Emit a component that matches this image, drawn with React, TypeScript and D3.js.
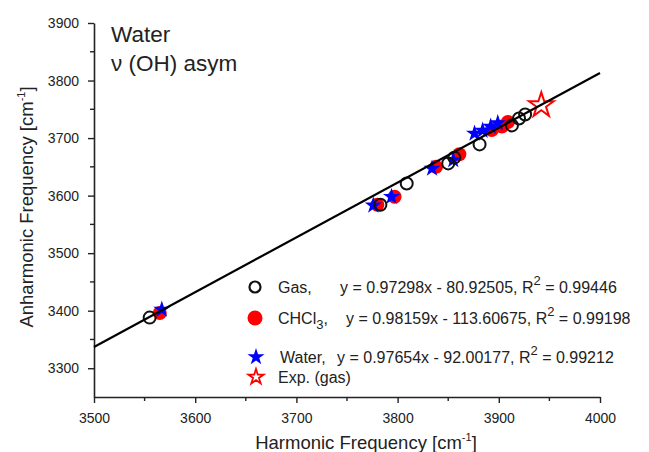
import React, { useEffect, useRef } from "react";
import * as d3 from "d3";

// harmonic vs anharmonic frequencies
const gasPoints = [
  [3555, 3388], [3783, 3584], [3809, 3621], [3850, 3656], [3856, 3666],
  [3881, 3689], [3913, 3722], [3920, 3734], [3926, 3741],
];
const chcl3Points = [
  [3565, 3396], [3780, 3584], [3797, 3598], [3838, 3650], [3861, 3672],
  [3893, 3714], [3903, 3720], [3909, 3728],
];
const waterPoints = [
  [3567, 3402], [3776, 3583], [3794, 3598], [3834, 3647], [3855, 3662],
  [3876, 3708], [3884, 3713], [3892, 3720], [3899, 3726],
];
const expPoints = [[3942, 3757]];
const fitLine = [[3500, 3337], [4000, 3813]];

const xTicks = [3500, 3600, 3700, 3800, 3900, 4000];
const yTicks = [3300, 3400, 3500, 3600, 3700, 3800, 3900];

const legendRows = [
  { key: "gas", name: "Gas,", eq: "y = 0.97298x - 80.92505, R", r2: " = 0.99446" },
  { key: "chcl3", name: "CHCl", eq: "y = 0.98159x - 113.60675, R", r2: " = 0.99198" },
  { key: "water", name: "Water,", eq: "y = 0.97654x - 92.00177, R", r2: " = 0.99212" },
  { key: "exp", name: "Exp. (gas)", eq: "", r2: "" },
];

const FONT = "Arial, 'Liberation Sans', sans-serif";

function App() {
  const ref = useRef<SVGSVGElement>(null);

  useEffect(() => {
    const svg = d3.select(ref.current);
    svg.selectAll("*").remove();

    const margin = { left: 94, right: 49, top: 23, bottom: 55 };
    const W = 649, H = 452;
    const x = d3.scaleLinear().domain([3500, 4000]).range([margin.left, W - margin.right]);
    const y = d3.scaleLinear().domain([3250, 3900]).range([H - margin.bottom, margin.top]);

    const g = svg.append("g");

    // axes
    const xAxis = d3.axisBottom(x).tickValues(xTicks).tickSize(6).tickSizeOuter(0).tickPadding(10)
      .tickFormat(d3.format("d"));
    const xg = g.append("g").attr("transform", `translate(0,${y(3250)})`).call(xAxis);
    const yAxis = d3.axisLeft(y).tickValues(yTicks).tickSize(6).tickSizeOuter(0).tickPadding(9)
      .tickFormat(d3.format("d"));
    const yg = g.append("g").attr("transform", `translate(${x(3500)},0)`).call(yAxis);
    [xg, yg].forEach((a) => {
      a.select(".domain").attr("stroke", "#222").attr("stroke-width", 1.6);
      a.selectAll(".tick line").attr("stroke", "#222").attr("stroke-width", 1.4);
      a.selectAll(".tick text").attr("font-family", FONT).attr("font-size", 14).attr("fill", "#222");
    });

    // minor ticks
    g.selectAll("line.xminor")
      .data(d3.range(3550, 4000, 100))
      .join("line")
      .attr("x1", (d) => x(d)).attr("x2", (d) => x(d))
      .attr("y1", y(3250)).attr("y2", y(3250) + 4)
      .attr("stroke", "#222").attr("stroke-width", 1.4);
    g.selectAll("line.yminor")
      .data(d3.range(3350, 3900, 100))
      .join("line")
      .attr("x1", x(3500) - 4).attr("x2", x(3500))
      .attr("y1", (d) => y(d)).attr("y2", (d) => y(d))
      .attr("stroke", "#222").attr("stroke-width", 1.4);

    const star = (R: number) => d3.symbol(d3.symbolStar, (R * R) / 0.8908130915)();

    // CHCl3 filled red circles
    g.selectAll("circle.chcl3")
      .data(chcl3Points)
      .join("circle")
      .attr("cx", (d) => x(d[0])).attr("cy", (d) => y(d[1]))
      .attr("r", 7).attr("fill", "#ff0000");

    // water blue stars
    g.selectAll("path.water")
      .data(waterPoints)
      .join("path")
      .attr("d", star(9))
      .attr("transform", (d) => `translate(${x(d[0])},${y(d[1])})`)
      .attr("fill", "#0000ff");

    // gas open circles
    g.selectAll("circle.gas")
      .data(gasPoints)
      .join("circle")
      .attr("cx", (d) => x(d[0])).attr("cy", (d) => y(d[1]))
      .attr("r", 6).attr("fill", "none").attr("stroke", "#111").attr("stroke-width", 2);

    // experimental open star
    g.selectAll("path.exp")
      .data(expPoints)
      .join("path")
      .attr("d", star(13))
      .attr("transform", (d) => `translate(${x(d[0])},${y(d[1])})`)
      .attr("fill", "none").attr("stroke", "#ff0000").attr("stroke-width", 2);

    // fit line
    g.append("path")
      .datum(fitLine)
      .attr("d", d3.line().x((d) => x(d[0])).y((d) => y(d[1])))
      .attr("stroke", "#000").attr("stroke-width", 2.2).attr("fill", "none");

    // title
    const title = g.append("text").attr("font-family", FONT).attr("fill", "#222").attr("font-size", 22.5);
    title.append("tspan").attr("x", 111).attr("y", 42).text("Water");
    title.append("tspan").attr("x", 111).attr("y", 71).text("ν (OH) asym");

    // legend
    const rowY = [287, 318, 357, 377];
    const lg = g.append("g").attr("font-family", FONT).attr("font-size", 16).attr("fill", "#222");
    legendRows.forEach((row, i) => {
      const cy = rowY[i];
      if (row.key === "gas") {
        lg.append("circle").attr("cx", 255).attr("cy", cy).attr("r", 5.5)
          .attr("fill", "none").attr("stroke", "#111").attr("stroke-width", 2.2);
      } else if (row.key === "chcl3") {
        lg.append("circle").attr("cx", 255).attr("cy", cy).attr("r", 7.5).attr("fill", "#ff0000");
      } else if (row.key === "water") {
        lg.append("path").attr("d", star(9)).attr("transform", `translate(256,${cy})`).attr("fill", "#0000ff");
      } else {
        lg.append("path").attr("d", star(8)).attr("transform", `translate(256,${cy})`)
          .attr("fill", "none").attr("stroke", "#ff0000").attr("stroke-width", 1.8);
      }
      const t = lg.append("text").attr("y", cy + 6);
      if (row.key === "chcl3") {
        t.append("tspan").attr("x", 278).text(row.name);
        t.append("tspan").attr("font-size", 13).attr("dy", 5).text("3");
        t.append("tspan").attr("dy", -5).text(",");
        t.append("tspan").attr("x", 346).text(row.eq);
      } else if (row.key === "gas") {
        t.append("tspan").attr("x", 278).text(row.name);
        t.append("tspan").attr("x", 340).text(row.eq);
      } else if (row.key === "water") {
        t.append("tspan").attr("x", 280).text(row.name);
        t.append("tspan").attr("x", 337).text(row.eq);
      } else {
        t.append("tspan").attr("x", 278).text(row.name);
      }
      if (row.r2) {
        t.append("tspan").attr("font-size", 13).attr("dy", -8).text("2");
        t.append("tspan").attr("dy", 8).text(row.r2);
      }
    });

    // axis titles
    const xl = g.append("text").attr("font-family", FONT).attr("font-size", 18.5).attr("fill", "#222")
      .attr("text-anchor", "middle").attr("x", 366).attr("y", 449);
    xl.append("tspan").text("Harmonic Frequency [cm");
    xl.append("tspan").attr("font-size", 11).attr("dy", -8).text("-1");
    xl.append("tspan").attr("dy", 8).text("]");

    const yl = g.append("text").attr("font-family", FONT).attr("font-size", 18.5).attr("fill", "#222")
      .attr("text-anchor", "middle").attr("transform", `translate(33,207) rotate(-90)`);
    yl.append("tspan").text("Anharmonic Frequency [cm");
    yl.append("tspan").attr("font-size", 11).attr("dy", -8).text("-1");
    yl.append("tspan").attr("dy", 8).text("]");
  }, []);

  return (
    <svg
      ref={ref}
      width={649}
      height={452}
      style={{ position: "absolute", left: 0, top: 0, background: "#fff" }}
    />
  );
}

export default App;
